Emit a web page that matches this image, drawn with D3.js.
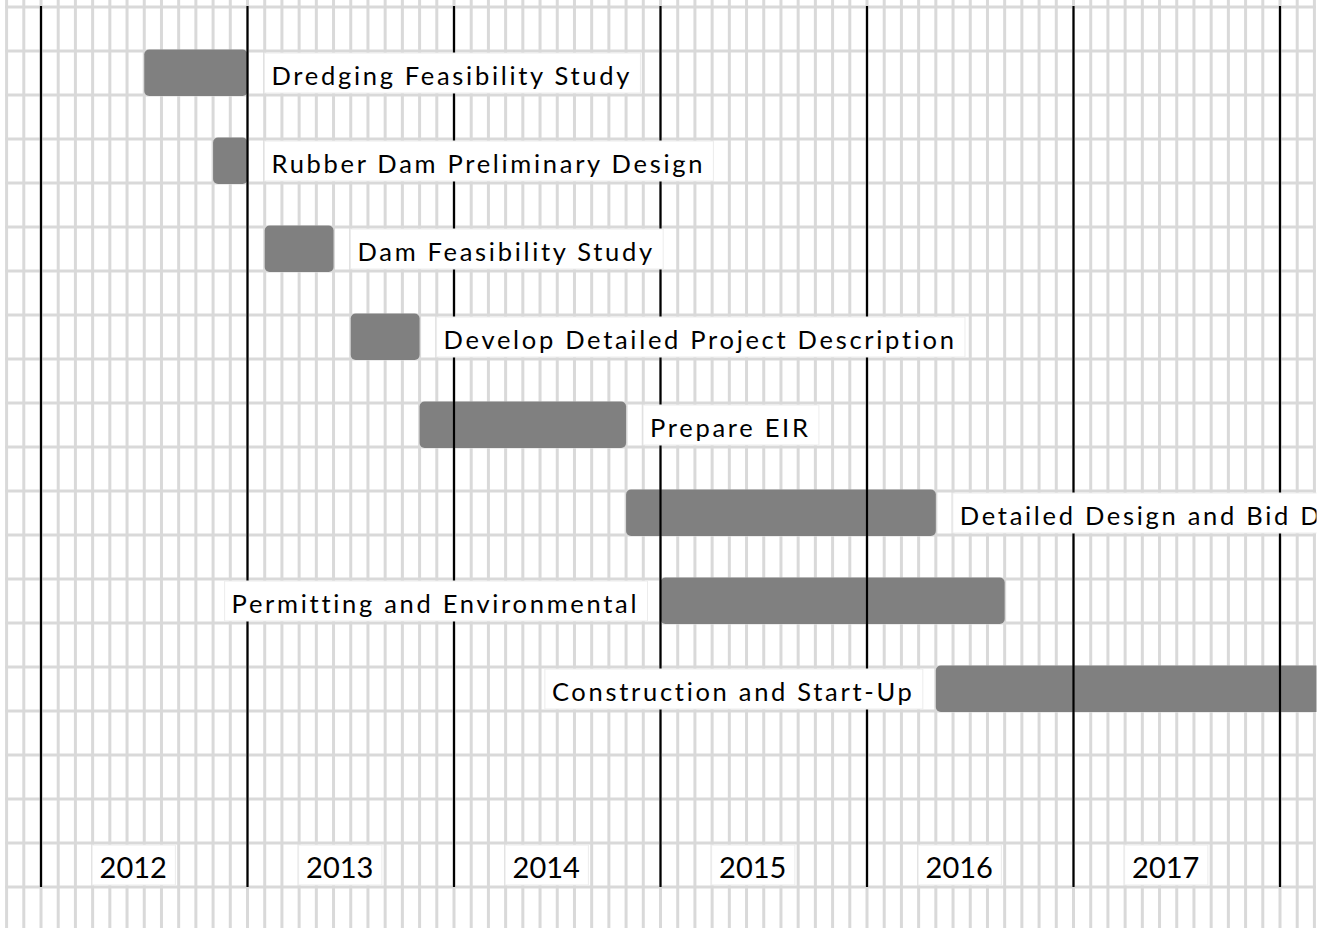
<!DOCTYPE html>
<html>
<head>
<meta charset="utf-8">
<script src="https://cdn.jsdelivr.net/npm/d3@7"></script>
<style>
  body { margin: 0; background: #fff; }
  text { font-family: Lato, "Open Sans", sans-serif; fill: #000; }
</style>
</head>
<body>
<div id="chart"></div>
<script>
// chart data (months counted from Jan 2012)
var tasks = [
  "Dredging Feasibility Study",
  "Rubber Dam Preliminary Design",
  "Dam Feasibility Study",
  "Develop Detailed Project Description",
  "Prepare EIR",
  "Detailed Design and Bid Documents",
  "Permitting and Environmental",
  "Construction and Start-Up"
];
var startMonth = [6, 10, 13, 18, 22, 34, 36, 52];
var endMonth = [12, 12, 17, 22, 34, 52, 56, 78];
var years = ["2012", "2013", "2014", "2015", "2016", "2017"];

var svgWidth = 1335;
var svgHeight = 928;

var svg = d3.select("#chart")
  .append("svg")
  .attr("width", svgWidth)
  .attr("height", svgHeight);

// month -> x
var xScale = d3.scaleLinear()
  .domain([0, 72])
  .range([41, 1280]);

// grid row line index -> y
var yScale = d3.scaleLinear()
  .domain([0, 20])
  .range([7, 887]);

svg.append("defs").append("clipPath")
  .attr("id", "plotClip")
  .append("rect")
  .attr("x", 0).attr("y", 0)
  .attr("width", 1316.5).attr("height", svgHeight);

var plot = svg.append("g").attr("clip-path", "url(#plotClip)");

// light grid: monthly verticals
plot.append("g").selectAll("line")
  .data(d3.range(-2, 75))
  .enter()
  .append("line")
  .attr("x1", d => xScale(d)).attr("x2", d => xScale(d))
  .attr("y1", 0).attr("y2", svgHeight)
  .attr("stroke", "#d9d9d9")
  .attr("stroke-width", 3);

// light grid: horizontals
plot.append("g").selectAll("line")
  .data(d3.range(0, 21))
  .enter()
  .append("line")
  .attr("x1", xScale(-2) - 1.5).attr("x2", xScale(74) + 1.5)
  .attr("y1", d => yScale(d)).attr("y2", d => yScale(d))
  .attr("stroke", "#d9d9d9")
  .attr("stroke-width", 3);

// task bars
plot.append("g").selectAll("rect")
  .data(tasks)
  .enter()
  .append("rect")
  .attr("x", (d, i) => xScale(startMonth[i]))
  .attr("y", (d, i) => yScale(2 * i + 1) - 1.5)
  .attr("width", (d, i) => xScale(endMonth[i]) - xScale(startMonth[i]))
  .attr("height", yScale(1) - yScale(0) + 2.5)
  .attr("rx", 5)
  .attr("fill", "#808080");

// year boundaries
plot.append("g").selectAll("line")
  .data(d3.range(0, 73, 12))
  .enter()
  .append("line")
  .attr("x1", d => xScale(d)).attr("x2", d => xScale(d))
  .attr("y1", yScale(0) - 1).attr("y2", yScale(20))
  .attr("stroke", "#000")
  .attr("stroke-width", 2.2);

// labels with white boxes
var spacing = 2.7;
var leftSide = i => endMonth[i] >= 56;
var labelGroup = plot.append("g");

tasks.forEach(function (name, i) {
  var g = labelGroup.append("g");
  var top = yScale(2 * i + 1);
  var box = g.append("rect");
  var t = g.append("text")
    .attr("y", top + 33.5)
    .style("font-size", "25.5px")
    .style("letter-spacing", spacing + "px")
    .text(name);
  var w = t.node().getComputedTextLength() - spacing;
  var x0 = leftSide(i) ? xScale(startMonth[i]) - 24 - w : xScale(endMonth[i]) + 24;
  t.attr("x", x0);
  box.attr("x", x0 - 7)
    .attr("y", top + 2)
    .attr("width", w + 18)
    .attr("height", yScale(1) - yScale(0) - 4)
    .attr("fill", "#fff")
    .attr("stroke", "#ececec")
    .attr("stroke-width", 1);
});

// year labels
years.forEach(function (yr, i) {
  var g = labelGroup.append("g");
  var top = yScale(19);
  var box = g.append("rect");
  var t = g.append("text")
    .attr("y", top + 34.5)
    .style("font-size", "29px")
    .style("text-anchor", "middle")
    .attr("x", xScale(12 * i + 6) - 11)
    .text(yr);
  var w = t.node().getComputedTextLength();
  box.attr("x", xScale(12 * i + 6) - 11 - w / 2 - 7.5)
    .attr("y", top + 2)
    .attr("width", w + 16)
    .attr("height", yScale(1) - yScale(0) - 4)
    .attr("fill", "#fff")
    .attr("stroke", "#ececec")
    .attr("stroke-width", 1);
});
</script>
</body>
</html>
